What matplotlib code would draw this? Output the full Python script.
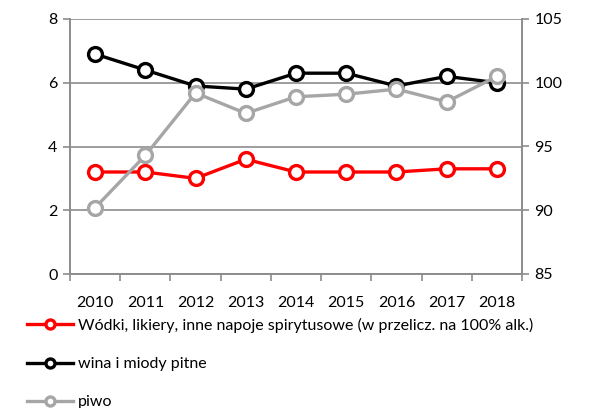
import matplotlib
matplotlib.use("Agg")
import matplotlib.pyplot as plt
import numpy as np

plt.rcParams['font.family'] = ['Lato', 'DejaVu Sans']

years = ["2010", "2011", "2012", "2013", "2014", "2015", "2016", "2017", "2018"]
wodki = [3.2, 3.2, 3.0, 3.6, 3.2, 3.2, 3.2, 3.3, 3.3]
wina = [6.9, 6.4, 5.9, 5.8, 6.3, 6.3, 5.9, 6.2, 6.0]
piwo = [90.2, 94.3, 99.2, 97.6, 98.9, 99.1, 99.5, 98.5, 100.5]

labels = ["Wódki, likiery, inne napoje spirytusowe (w przelicz. na 100% alk.)",
          "wina i miody pitne",
          "piwo"]

axis_grey = "#8c8c8c"
fs = 11.5

fig = plt.figure(figsize=(5.95, 4.08), dpi=100)
ax = fig.add_axes([70/595, 1-274/408, (522-70)/595, (274-19)/408])
ax2 = ax.twinx()

x = np.arange(len(years))
style = dict(marker='o', markersize=10, markerfacecolor='white', markeredgewidth=2.4,
             linewidth=2.4, clip_on=False)
l1, = ax.plot(x, wodki, color='#ff0000', markeredgecolor='#ff0000', **style)
l2, = ax.plot(x, wina, color='black', markeredgecolor='black', **style)
l3, = ax2.plot(x, piwo, color='#a6a6a6', markeredgecolor='#a6a6a6', **style)

ax.set_xlim(-0.5, len(years) - 0.5)
ax.set_ylim(0, 8)
ax.set_yticks([0, 2, 4, 6, 8])
ax2.set_ylim(85, 105)
ax2.set_yticks([85, 90, 95, 100, 105])

ax.set_xticks(x)
ax.set_xticklabels(years)
ax.set_xticks(np.arange(-0.5, len(years)), minor=True)
ax.tick_params(axis='x', which='major', length=0, pad=16, labelsize=fs)
ax.tick_params(axis='x', which='minor', length=5, width=1.2, color=axis_grey, direction='out')
ax.tick_params(axis='y', length=5, width=1.2, color=axis_grey, labelsize=fs, pad=4)
ax2.tick_params(axis='y', length=5, width=1.2, color=axis_grey, labelsize=fs, pad=4)

ax.yaxis.grid(True, color=axis_grey, linewidth=1.2)
ax.set_axisbelow(True)

for a in (ax, ax2):
    a.spines['top'].set_visible(False)
    for s in ('left', 'right', 'bottom'):
        a.spines[s].set_color(axis_grey)
        a.spines[s].set_linewidth(1.2)

leg = fig.legend([l1, l2, l3], labels, loc='upper left', bbox_to_anchor=(27/595, 1-318/408),
                 frameon=False, fontsize=fs, handlelength=2.9, handletextpad=0.3,
                 labelspacing=1.5, borderaxespad=0, borderpad=0, markerscale=0.65)

fig.savefig("out.png", dpi=100)
